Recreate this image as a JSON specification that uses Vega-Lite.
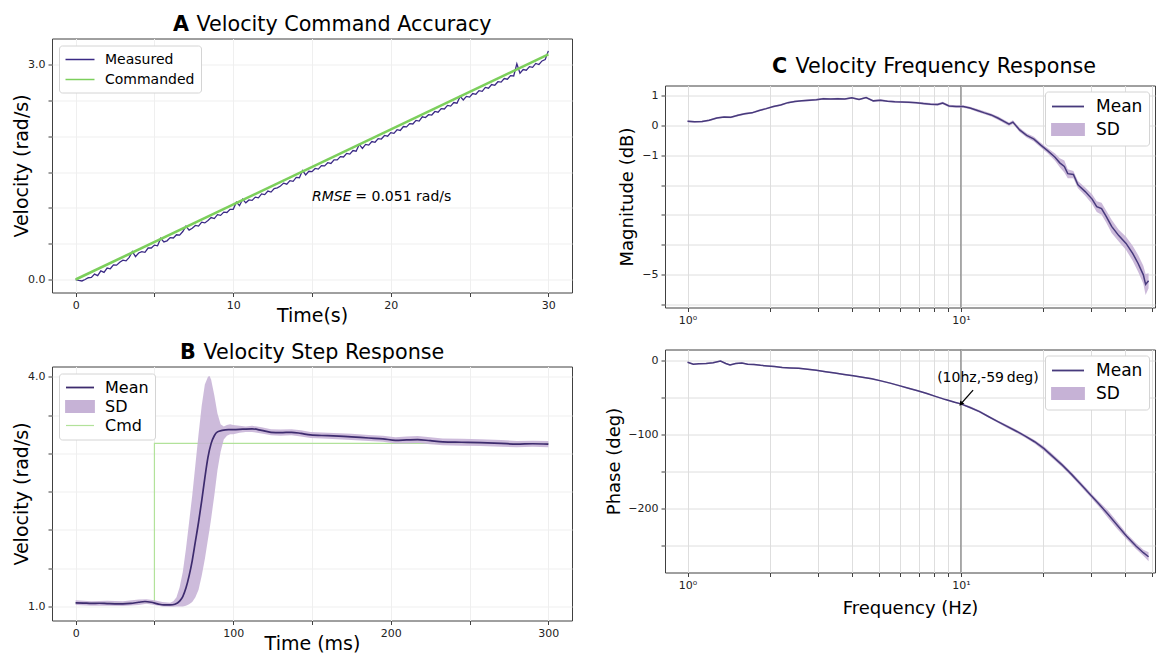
{
  "$schema": "https://vega.github.io/schema/vega-lite/v6.json",
  "background": "white",
  "padding": {"left": 12, "top": 13.5, "right": 0, "bottom": 0},
  "config": {
    "font": "DejaVu Sans",
    "view": {"stroke": "#404040", "strokeWidth": 1},
    "axis": {
      "domain": false, "grid": true, "gridColor": "#efefef", "gridWidth": 1, "tickCount": 30,
      "tickColor": "#404040", "tickSize": 4, "labelFont": "DejaVu Sans", "labelFontSize": 11,
      "labelColor": "#222222", "labelPadding": 3, "labelOverlap": false, "labelFlush": false,
      "titleFont": "DejaVu Sans", "titleFontSize": 19, "titleFontWeight": "normal", "titleColor": "#000000"
    },
    "legend": {
      "labelFont": "DejaVu Sans", "labelColor": "#000000", "fillColor": "#ffffff",
      "strokeColor": "#d4d4d4", "cornerRadius": 3, "padding": 6, "symbolStrokeWidth": 1.5
    },
    "title": {
      "font": "DejaVu Sans", "fontSize": 20.7, "fontWeight": "bold", "color": "#000000",
      "subtitleFont": "DejaVu Sans", "subtitleFontSize": 20.7, "subtitleFontWeight": "normal",
      "subtitleColor": "#000000", "subtitlePadding": -20.7, "anchor": "start", "frame": "group", "offset": 2.5
    }
  },
  "datasets": {
    "accMeasured": [
      {"t":0,"v":0.000},{"t":0.2,"v":-0.012},{"t":0.4,"v":-0.020},{"t":0.6,"v":0.000},{"t":0.8,"v":0.025},
      {"t":1.0,"v":0.030},{"t":1.2,"v":0.075},{"t":1.4,"v":0.055},{"t":1.6,"v":0.120},{"t":1.8,"v":0.100},
      {"t":2.0,"v":0.160},{"t":2.2,"v":0.150},{"t":2.4,"v":0.205},{"t":2.6,"v":0.200},{"t":2.8,"v":0.240},
      {"t":3.0,"v":0.270},{"t":3.2,"v":0.260},{"t":3.4,"v":0.310},{"t":3.6,"v":0.390},{"t":3.8,"v":0.320},
      {"t":4.0,"v":0.370},{"t":4.2,"v":0.390},{"t":4.4,"v":0.380},{"t":4.6,"v":0.440},{"t":4.8,"v":0.440},
      {"t":5.0,"v":0.480},{"t":5.2,"v":0.470},{"t":5.4,"v":0.575},{"t":5.6,"v":0.525},{"t":5.8,"v":0.540},
      {"t":6.0,"v":0.585},{"t":6.2,"v":0.580},{"t":6.4,"v":0.625},{"t":6.6,"v":0.620},{"t":6.8,"v":0.670},
      {"t":7.0,"v":0.745},{"t":7.2,"v":0.690},{"t":7.4,"v":0.715},{"t":7.6,"v":0.755},{"t":7.8,"v":0.745},
      {"t":8.0,"v":0.800},{"t":8.2,"v":0.790},{"t":8.4,"v":0.825},{"t":8.6,"v":0.865},{"t":8.8,"v":0.850},
      {"t":9.0,"v":0.905},{"t":9.2,"v":0.895},{"t":9.4,"v":0.940},{"t":9.6,"v":0.935},{"t":9.8,"v":0.980},
      {"t":10.0,"v":0.980},{"t":10.2,"v":1.080},{"t":10.4,"v":1.030},{"t":10.6,"v":1.120},{"t":10.8,"v":1.070},
      {"t":11.0,"v":1.110},{"t":11.2,"v":1.105},{"t":11.4,"v":1.150},{"t":11.6,"v":1.140},{"t":11.8,"v":1.195},
      {"t":12.0,"v":1.185},{"t":12.2,"v":1.235},{"t":12.4,"v":1.220},{"t":12.6,"v":1.270},{"t":12.8,"v":1.280},
      {"t":13.0,"v":1.305},{"t":13.2,"v":1.345},{"t":13.4,"v":1.330},{"t":13.6,"v":1.380},{"t":13.8,"v":1.370},
      {"t":14.0,"v":1.425},{"t":14.2,"v":1.420},{"t":14.4,"v":1.520},{"t":14.6,"v":1.460},{"t":14.8,"v":1.510},
      {"t":15.0,"v":1.505},{"t":15.2,"v":1.550},{"t":15.4,"v":1.540},{"t":15.6,"v":1.590},{"t":15.8,"v":1.585},
      {"t":16.0,"v":1.630},{"t":16.2,"v":1.620},{"t":16.4,"v":1.670},{"t":16.6,"v":1.670},{"t":16.8,"v":1.715},
      {"t":17.0,"v":1.710},{"t":17.2,"v":1.760},{"t":17.4,"v":1.750},{"t":17.6,"v":1.800},{"t":17.8,"v":1.790},
      {"t":18.0,"v":1.885},{"t":18.2,"v":1.830},{"t":18.4,"v":1.885},{"t":18.6,"v":1.875},{"t":18.8,"v":1.925},
      {"t":19.0,"v":1.915},{"t":19.2,"v":1.965},{"t":19.4,"v":1.960},{"t":19.6,"v":2.010},{"t":19.8,"v":2.000},
      {"t":20.0,"v":2.050},{"t":20.2,"v":2.040},{"t":20.4,"v":2.090},{"t":20.6,"v":2.080},{"t":20.8,"v":2.135},
      {"t":21.0,"v":2.130},{"t":21.2,"v":2.175},{"t":21.4,"v":2.170},{"t":21.6,"v":2.220},{"t":21.8,"v":2.210},
      {"t":22.0,"v":2.270},{"t":22.2,"v":2.260},{"t":22.4,"v":2.300},{"t":22.6,"v":2.295},{"t":22.8,"v":2.345},
      {"t":23.0,"v":2.335},{"t":23.2,"v":2.385},{"t":23.4,"v":2.380},{"t":23.6,"v":2.430},{"t":23.8,"v":2.420},
      {"t":24.0,"v":2.470},{"t":24.2,"v":2.460},{"t":24.4,"v":2.555},{"t":24.6,"v":2.505},{"t":24.8,"v":2.555},
      {"t":25.0,"v":2.545},{"t":25.2,"v":2.595},{"t":25.4,"v":2.585},{"t":25.6,"v":2.635},{"t":25.8,"v":2.625},
      {"t":26.0,"v":2.680},{"t":26.2,"v":2.670},{"t":26.4,"v":2.720},{"t":26.6,"v":2.710},{"t":26.8,"v":2.760},
      {"t":27.0,"v":2.755},{"t":27.2,"v":2.805},{"t":27.4,"v":2.795},{"t":27.6,"v":2.845},{"t":27.8,"v":2.840},
      {"t":28.0,"v":3.010},{"t":28.2,"v":2.880},{"t":28.4,"v":2.930},{"t":28.6,"v":2.920},{"t":28.8,"v":2.970},
      {"t":29.0,"v":2.960},{"t":29.2,"v":3.015},{"t":29.4,"v":3.000},{"t":29.6,"v":3.050},{"t":29.8,"v":3.070},
      {"t":30.0,"v":3.190}
    ],
    "accCommanded": [{"t":0,"v":0},{"t":30,"v":3.1416}],
    "stepMean": [
      {"t":0,"v":1.048},{"t":5,"v":1.045},{"t":10,"v":1.04},{"t":15,"v":1.042},{"t":20,"v":1.038},
      {"t":25,"v":1.035},{"t":30,"v":1.035},{"t":35,"v":1.04},{"t":40,"v":1.055},{"t":44,"v":1.065},
      {"t":48,"v":1.055},{"t":52,"v":1.035},{"t":56,"v":1.02},{"t":60,"v":1.02},{"t":63,"v":1.03},
      {"t":66,"v":1.07},{"t":68,"v":1.13},{"t":70,"v":1.24},{"t":72,"v":1.40},{"t":74,"v":1.60},
      {"t":76,"v":1.85},{"t":78,"v":2.10},{"t":80,"v":2.38},{"t":82,"v":2.68},{"t":84,"v":2.95},
      {"t":86,"v":3.13},{"t":88,"v":3.23},{"t":90,"v":3.28},{"t":93,"v":3.30},{"t":97,"v":3.31},
      {"t":100,"v":3.31},{"t":106,"v":3.315},{"t":112,"v":3.32},{"t":118,"v":3.30},{"t":124,"v":3.275},
      {"t":130,"v":3.27},{"t":137,"v":3.275},{"t":143,"v":3.26},{"t":149,"v":3.24},{"t":160,"v":3.23},
      {"t":175,"v":3.215},{"t":186,"v":3.20},{"t":195,"v":3.19},{"t":203,"v":3.17},{"t":210,"v":3.175},
      {"t":217,"v":3.18},{"t":225,"v":3.165},{"t":233,"v":3.15},{"t":245,"v":3.145},{"t":257,"v":3.14},
      {"t":270,"v":3.13},{"t":280,"v":3.12},{"t":290,"v":3.125},{"t":300,"v":3.12}
    ],
    "stepBand": [
      {"t":0,"lo":1.02,"hi":1.08},{"t":10,"lo":1.01,"hi":1.07},{"t":20,"lo":1.01,"hi":1.075},
      {"t":30,"lo":1.005,"hi":1.07},{"t":40,"lo":1.02,"hi":1.09},{"t":45,"lo":1.035,"hi":1.095},
      {"t":50,"lo":1.02,"hi":1.08},{"t":55,"lo":1.0,"hi":1.06},{"t":60,"lo":0.995,"hi":1.05},
      {"t":62,"lo":0.995,"hi":1.07},{"t":64,"lo":1.0,"hi":1.12},{"t":66,"lo":1.0,"hi":1.25},
      {"t":68,"lo":1.0,"hi":1.45},{"t":70,"lo":1.01,"hi":1.75},{"t":72,"lo":1.03,"hi":2.10},
      {"t":74,"lo":1.06,"hi":2.45},{"t":76,"lo":1.12,"hi":2.85},{"t":78,"lo":1.22,"hi":3.25},
      {"t":80,"lo":1.40,"hi":3.62},{"t":82,"lo":1.62,"hi":3.90},{"t":84,"lo":1.88,"hi":4.0},
      {"t":85,"lo":2.01,"hi":4.01},{"t":86,"lo":2.15,"hi":3.96},{"t":88,"lo":2.45,"hi":3.76},
      {"t":90,"lo":2.78,"hi":3.52},{"t":92,"lo":3.02,"hi":3.38},{"t":94,"lo":3.18,"hi":3.35},
      {"t":96,"lo":3.23,"hi":3.37},{"t":98,"lo":3.25,"hi":3.38},{"t":100,"lo":3.25,"hi":3.37},
      {"t":104,"lo":3.27,"hi":3.36},{"t":108,"lo":3.28,"hi":3.35},{"t":112,"lo":3.28,"hi":3.36},
      {"t":118,"lo":3.26,"hi":3.34},{"t":124,"lo":3.235,"hi":3.315},{"t":130,"lo":3.23,"hi":3.31},
      {"t":137,"lo":3.235,"hi":3.315},{"t":143,"lo":3.22,"hi":3.30},{"t":149,"lo":3.20,"hi":3.28},
      {"t":160,"lo":3.19,"hi":3.27},{"t":175,"lo":3.175,"hi":3.255},{"t":186,"lo":3.16,"hi":3.24},
      {"t":195,"lo":3.15,"hi":3.23},{"t":203,"lo":3.13,"hi":3.21},{"t":210,"lo":3.13,"hi":3.22},
      {"t":217,"lo":3.135,"hi":3.225},{"t":225,"lo":3.12,"hi":3.21},{"t":233,"lo":3.105,"hi":3.195},
      {"t":245,"lo":3.10,"hi":3.19},{"t":257,"lo":3.095,"hi":3.185},{"t":270,"lo":3.085,"hi":3.175},
      {"t":280,"lo":3.08,"hi":3.16},{"t":290,"lo":3.085,"hi":3.165},{"t":300,"lo":3.08,"hi":3.16}
    ],
    "stepCmd": [{"t":0,"v":1.05},{"t":50,"v":3.13},{"t":300,"v":3.13}],
    "mag": [
      {"f":1.00,"v":0.13,"lo":0.10,"hi":0.16},{"f":1.06,"v":0.11,"lo":0.08,"hi":0.14},
      {"f":1.13,"v":0.12,"lo":0.09,"hi":0.15},{"f":1.20,"v":0.16,"lo":0.13,"hi":0.19},
      {"f":1.28,"v":0.24,"lo":0.21,"hi":0.27},{"f":1.36,"v":0.27,"lo":0.24,"hi":0.30},
      {"f":1.44,"v":0.26,"lo":0.23,"hi":0.29},{"f":1.53,"v":0.33,"lo":0.30,"hi":0.36},
      {"f":1.62,"v":0.38,"lo":0.35,"hi":0.41},{"f":1.72,"v":0.41,"lo":0.38,"hi":0.44},
      {"f":1.83,"v":0.49,"lo":0.46,"hi":0.52},{"f":1.94,"v":0.55,"lo":0.52,"hi":0.58},
      {"f":2.06,"v":0.62,"lo":0.59,"hi":0.65},{"f":2.19,"v":0.67,"lo":0.64,"hi":0.70},
      {"f":2.33,"v":0.75,"lo":0.72,"hi":0.78},{"f":2.47,"v":0.79,"lo":0.76,"hi":0.82},
      {"f":2.62,"v":0.81,"lo":0.78,"hi":0.84},{"f":2.79,"v":0.83,"lo":0.80,"hi":0.86},
      {"f":2.96,"v":0.85,"lo":0.82,"hi":0.88},{"f":3.14,"v":0.88,"lo":0.85,"hi":0.91},
      {"f":3.34,"v":0.87,"lo":0.84,"hi":0.90},{"f":3.54,"v":0.88,"lo":0.85,"hi":0.91},
      {"f":3.76,"v":0.87,"lo":0.84,"hi":0.90},{"f":3.99,"v":0.91,"lo":0.88,"hi":0.94},
      {"f":4.24,"v":0.86,"lo":0.83,"hi":0.89},{"f":4.50,"v":0.92,"lo":0.89,"hi":0.95},
      {"f":4.78,"v":0.81,"lo":0.78,"hi":0.84},{"f":5.08,"v":0.83,"lo":0.80,"hi":0.86},
      {"f":5.39,"v":0.80,"lo":0.77,"hi":0.83},{"f":5.73,"v":0.78,"lo":0.75,"hi":0.81},
      {"f":6.08,"v":0.77,"lo":0.74,"hi":0.80},{"f":6.46,"v":0.76,"lo":0.73,"hi":0.79},
      {"f":6.86,"v":0.75,"lo":0.72,"hi":0.78},{"f":7.29,"v":0.72,"lo":0.68,"hi":0.76},
      {"f":7.74,"v":0.70,"lo":0.66,"hi":0.74},{"f":8.22,"v":0.69,"lo":0.65,"hi":0.73},
      {"f":8.58,"v":0.74,"lo":0.70,"hi":0.78},{"f":9.05,"v":0.64,"lo":0.60,"hi":0.68},
      {"f":9.60,"v":0.62,"lo":0.58,"hi":0.66},{"f":10.2,"v":0.62,"lo":0.58,"hi":0.66},
      {"f":10.8,"v":0.57,"lo":0.53,"hi":0.61},{"f":11.5,"v":0.49,"lo":0.44,"hi":0.54},
      {"f":12.2,"v":0.41,"lo":0.36,"hi":0.46},{"f":12.9,"v":0.34,"lo":0.29,"hi":0.39},
      {"f":13.7,"v":0.23,"lo":0.17,"hi":0.29},{"f":14.6,"v":0.09,"lo":0.03,"hi":0.15},
      {"f":15.0,"v":0.03,"lo":-0.03,"hi":0.09},{"f":15.5,"v":0.10,"lo":0.04,"hi":0.16},
      {"f":16.4,"v":-0.16,"lo":-0.23,"hi":-0.09},{"f":17.4,"v":-0.34,"lo":-0.41,"hi":-0.27},
      {"f":18.5,"v":-0.47,"lo":-0.55,"hi":-0.39},{"f":19.6,"v":-0.67,"lo":-0.75,"hi":-0.59},
      {"f":20.8,"v":-0.86,"lo":-0.95,"hi":-0.77},{"f":22.1,"v":-1.07,"lo":-1.19,"hi":-0.95},
      {"f":23.0,"v":-1.26,"lo":-1.41,"hi":-1.11},{"f":23.9,"v":-1.38,"lo":-1.58,"hi":-1.18},
      {"f":24.6,"v":-1.62,"lo":-1.77,"hi":-1.47},{"f":25.8,"v":-1.65,"lo":-1.77,"hi":-1.53},
      {"f":26.8,"v":-1.99,"lo":-2.11,"hi":-1.87},{"f":28.5,"v":-2.22,"lo":-2.36,"hi":-2.08},
      {"f":30.2,"v":-2.47,"lo":-2.63,"hi":-2.31},{"f":31.4,"v":-2.72,"lo":-2.90,"hi":-2.54},
      {"f":32.7,"v":-2.79,"lo":-2.99,"hi":-2.59},{"f":34.0,"v":-3.05,"lo":-3.25,"hi":-2.85},
      {"f":35.6,"v":-3.38,"lo":-3.60,"hi":-3.16},{"f":37.8,"v":-3.69,"lo":-3.89,"hi":-3.49},
      {"f":40.2,"v":-3.95,"lo":-4.17,"hi":-3.73},{"f":42.5,"v":-4.28,"lo":-4.53,"hi":-4.03},
      {"f":44.5,"v":-4.62,"lo":-4.90,"hi":-4.34},{"f":46.5,"v":-5.00,"lo":-5.30,"hi":-4.70},
      {"f":47.4,"v":-5.32,"lo":-5.67,"hi":-4.97},{"f":48.6,"v":-5.20,"lo":-5.45,"hi":-4.95}
    ],
    "phase": [
      {"f":1.00,"v":-3,"lo":-4,"hi":-2},{"f":1.05,"v":-5.5,"lo":-6.5,"hi":-4.5},
      {"f":1.10,"v":-5,"lo":-6,"hi":-4},{"f":1.17,"v":-4.5,"lo":-5.5,"hi":-3.5},
      {"f":1.24,"v":-3.5,"lo":-4.5,"hi":-2.5},{"f":1.32,"v":-1.3,"lo":-2.3,"hi":-0.3},
      {"f":1.38,"v":-4.5,"lo":-5.5,"hi":-3.5},{"f":1.43,"v":-6.5,"lo":-7.5,"hi":-5.5},
      {"f":1.50,"v":-4.5,"lo":-5.5,"hi":-3.5},{"f":1.58,"v":-4,"lo":-5,"hi":-3},
      {"f":1.66,"v":-5.5,"lo":-6.5,"hi":-4.5},{"f":1.75,"v":-6,"lo":-7,"hi":-5},
      {"f":1.85,"v":-7,"lo":-8,"hi":-6},{"f":1.96,"v":-7.8,"lo":-8.8,"hi":-6.8},
      {"f":2.08,"v":-8.6,"lo":-9.6,"hi":-7.6},{"f":2.22,"v":-9.8,"lo":-10.8,"hi":-8.8},
      {"f":2.38,"v":-10.5,"lo":-11.5,"hi":-9.5},{"f":2.55,"v":-11,"lo":-12,"hi":-10},
      {"f":2.75,"v":-12.4,"lo":-13.4,"hi":-11.4},{"f":2.96,"v":-13.8,"lo":-14.8,"hi":-12.8},
      {"f":3.20,"v":-15.6,"lo":-16.6,"hi":-14.6},{"f":3.46,"v":-17.4,"lo":-18.4,"hi":-16.4},
      {"f":3.74,"v":-19.3,"lo":-20.3,"hi":-18.3},{"f":4.04,"v":-21,"lo":-22,"hi":-20},
      {"f":4.36,"v":-23,"lo":-24,"hi":-22},{"f":4.72,"v":-25.2,"lo":-26.2,"hi":-24.2},
      {"f":5.10,"v":-28,"lo":-29,"hi":-27},{"f":5.51,"v":-31,"lo":-32,"hi":-30},
      {"f":5.95,"v":-34.4,"lo":-35.4,"hi":-33.4},{"f":6.43,"v":-37.8,"lo":-38.8,"hi":-36.8},
      {"f":6.95,"v":-41.4,"lo":-42.4,"hi":-40.4},{"f":7.51,"v":-45,"lo":-46,"hi":-44},
      {"f":8.12,"v":-49.2,"lo":-50.2,"hi":-48.2},{"f":8.78,"v":-53.2,"lo":-54.2,"hi":-52.2},
      {"f":9.49,"v":-56.8,"lo":-57.8,"hi":-55.8},{"f":10.0,"v":-59,"lo":-60,"hi":-58},
      {"f":10.8,"v":-63.8,"lo":-65.3,"hi":-62.3},{"f":11.7,"v":-69.5,"lo":-71,"hi":-68},
      {"f":12.6,"v":-76,"lo":-77.5,"hi":-74.5},{"f":13.6,"v":-82.5,"lo":-84,"hi":-81},
      {"f":14.7,"v":-89,"lo":-91,"hi":-87},{"f":15.9,"v":-95.5,"lo":-97.5,"hi":-93.5},
      {"f":17.2,"v":-102.5,"lo":-104.5,"hi":-100.5},{"f":18.6,"v":-110,"lo":-112.5,"hi":-107.5},
      {"f":20.1,"v":-119,"lo":-122,"hi":-116},{"f":21.7,"v":-130,"lo":-133,"hi":-127},
      {"f":23.5,"v":-141.5,"lo":-144.5,"hi":-138.5},{"f":25.4,"v":-154,"lo":-157,"hi":-151},
      {"f":27.4,"v":-167,"lo":-170,"hi":-164},{"f":29.6,"v":-180.5,"lo":-183.5,"hi":-177.5},
      {"f":32.0,"v":-194,"lo":-197.5,"hi":-190.5},{"f":34.6,"v":-208,"lo":-213,"hi":-203},
      {"f":37.4,"v":-223,"lo":-228,"hi":-218},{"f":40.4,"v":-237.5,"lo":-241.5,"hi":-233.5},
      {"f":43.7,"v":-250.5,"lo":-254.5,"hi":-246.5},{"f":46.5,"v":-259.5,"lo":-263.5,"hi":-255.5},
      {"f":48.6,"v":-265,"lo":-271,"hi":-259}
    ],
    "callout": [{"f":10,"v":-59,"label":"(10hz,-59\u2009deg)"}]
  },
  "spacing": 32,
  "resolve": {"scale": {"color": "independent"}, "legend": {"color": "independent"}},
  "hconcat": [
    {
      "spacing": 15,
      "resolve": {"scale": {"color": "independent"}, "legend": {"color": "independent"}},
      "vconcat": [
        {
          "width": 520, "height": 254,
          "title": {"text": "A", "subtitle": "\u200b\u2002\u00a0\u00a0Velocity Command Accuracy", "dx": 121},
          "layer": [
            {
              "data": {"name": "accMeasured"},
              "mark": {"type": "line", "strokeWidth": 1.3},
              "encoding": {
                "x": {"field": "t", "type": "quantitative",
                  "scale": {"domain": [-1.5, 31.5], "nice": false, "zero": false},
                  "axis": {"title": "Time(s)", "titlePadding": -4, "values": [0,5,10,15,20,25,30],
                    "labelExpr": "datum.value % 10 === 0 ? datum.label : ''"}},
                "y": {"field": "v", "type": "quantitative",
                  "scale": {"domain": [-0.181, 3.363], "nice": false, "zero": false},
                  "axis": {"title": "Velocity (rad/s)", "titlePadding": -4, "values": [0,0.5,1,1.5,2,2.5,3], "format": ".1f",
                    "labelExpr": "datum.value === 0 || datum.value === 3 ? datum.label : ''"}},
                "color": {"datum": "Measured", "type": "nominal",
                  "scale": {"domain": ["Measured", "Commanded"], "range": ["#3a2a85", "#7ccf5c"]},
                  "legend": {"title": null, "orient": "top-left", "offset": 7, "labelFontSize": 14,
                    "symbolType": "M-2,0H2", "symbolSize": 210, "symbolOffset": 7, "labelOffset": 17,
                    "rowPadding": 5, "symbolStrokeWidth": 1.5}}
              }
            },
            {
              "data": {"name": "accCommanded"},
              "mark": {"type": "line", "strokeWidth": 2.6},
              "encoding": {
                "x": {"field": "t", "type": "quantitative"},
                "y": {"field": "v", "type": "quantitative"},
                "color": {"datum": "Commanded", "type": "nominal"}
              }
            },
            {
              "data": {"values": [{"label": "RMSE"}]},
              "mark": {"type": "text", "align": "left", "baseline": "middle", "fontSize": 14, "fontStyle": "italic", "color": "#000000"},
              "encoding": {"x": {"datum": 15.0}, "y": {"datum": 1.15}, "text": {"field": "label"}}
            },
            {
              "data": {"values": [{"label": "= 0.051 rad/s"}]},
              "mark": {"type": "text", "align": "left", "baseline": "middle", "fontSize": 14, "color": "#000000"},
              "encoding": {"x": {"datum": 17.75}, "y": {"datum": 1.15}, "text": {"field": "label"}}
            }
          ]
        },
        {
          "width": 520, "height": 254,
          "title": {"text": "B", "subtitle": "\u200b\u2002\u00a0\u00a0Velocity Step Response", "dx": 128},
          "layer": [
            {
              "data": {"name": "stepCmd"},
              "mark": {"type": "line", "interpolate": "step-after", "strokeWidth": 1.2},
              "encoding": {
                "x": {"field": "t", "type": "quantitative",
                  "scale": {"domain": [-15, 315], "nice": false, "zero": false},
                  "axis": {"title": "Time (ms)", "titlePadding": -4, "values": [0,50,100,150,200,250,300],
                    "labelExpr": "datum.value % 100 === 0 ? datum.label : ''"}},
                "y": {"field": "v", "type": "quantitative",
                  "scale": {"domain": [0.817, 4.134], "nice": false, "zero": false},
                  "axis": {"title": "Velocity (rad/s)", "titlePadding": -4, "values": [1,1.5,2,2.5,3,3.5,4], "format": ".1f",
                    "labelExpr": "datum.value === 1 || datum.value === 4 ? datum.label : ''"}},
                "color": {"datum": "Cmd", "type": "nominal",
                  "scale": {"domain": ["Mean", "SD", "Cmd"], "range": ["#3d2b6e", "#c6b2d6", "#b2e29a"]},
                  "legend": {"title": null, "orient": "top-left", "offset": 7, "labelFontSize": 16,
                    "symbolSize": 196, "symbolOffset": 7, "labelOffset": 17, "rowPadding": 1,
                    "encode": {"symbols": {"update": {
                      "shape": {"signal": "datum.value === 'SD' ? 'M-2,-0.8H2V0.8H-2Z' : 'M-2,0H2'"},
                      "fill": {"signal": "datum.value === 'SD' ? '#c6b2d6' : 'transparent'"},
                      "stroke": {"signal": "datum.value === 'Mean' ? '#3d2b6e' : datum.value === 'Cmd' ? '#b2e29a' : 'transparent'"},
                      "strokeWidth": {"signal": "datum.value === 'Cmd' ? 1.2 : 1.8"}
                    }}}}}
              }
            },
            {
              "data": {"name": "stepBand"},
              "mark": {"type": "area", "color": "#c6b2d6", "opacity": 0.88},
              "encoding": {
                "x": {"field": "t", "type": "quantitative"},
                "y": {"field": "lo", "type": "quantitative"},
                "y2": {"field": "hi"}
              }
            },
            {
              "data": {"name": "stepMean"},
              "mark": {"type": "line", "strokeWidth": 1.7, "interpolate": "monotone"},
              "encoding": {
                "x": {"field": "t", "type": "quantitative"},
                "y": {"field": "v", "type": "quantitative"},
                "color": {"datum": "Mean", "type": "nominal"}
              }
            }
          ]
        }
      ]
    },
    {
      "spacing": 15,
      "resolve": {"scale": {"color": "independent"}, "legend": {"color": "independent"}},
      "vconcat": [
        {
          "width": 10, "height": 1,
          "view": {"stroke": null},
          "data": {"values": []},
          "mark": {"type": "point", "opacity": 0}
        },
        {
          "spacing": 21,
          "resolve": {"scale": {"color": "independent"}, "legend": {"color": "independent"}},
          "vconcat": [
            {
              "width": 490, "height": 222,
              "title": {"text": "C", "subtitle": "\u200b\u2002\u00a0\u00a0Velocity Frequency Response", "dx": 107, "offset": 7.3},
              "layer": [
                {
                  "data": {"values": [{}]},
                  "mark": {"type": "rule", "color": "#808080", "strokeWidth": 1.2},
                  "encoding": {"x": {"datum": 10}}
                },
                {
                  "data": {"name": "mag"},
                  "mark": {"type": "area", "color": "#c6b2d6", "opacity": 0.9},
                  "encoding": {
                    "x": {"field": "f", "type": "quantitative",
                      "scale": {"type": "log", "domain": [0.827, 51.3], "nice": false},
                      "axis": {"title": null, "gridColor": "#dedede", "values": [1,2,3,4,5,6,7,8,9,10,20,30,40,50],
                        "labelExpr": "datum.value === 1 ? '10\u2070' : datum.value === 10 ? '10\u00b9' : ''"}},
                    "y": {"field": "lo", "type": "quantitative",
                      "scale": {"domain": [-6.09, 1.323], "nice": false, "zero": false},
                      "axis": {"title": "Magnitude (dB)", "titleFontSize": 18, "titlePadding": 5, "gridColor": "#dedede",
                        "values": [-6,-5,-4,-3,-2,-1,0,1], "format": "d",
                        "labelExpr": "indexof([1,0,-1,-5], datum.value) >= 0 ? replace(datum.label, '-', '\u2212') : ''"}},
                    "y2": {"field": "hi"}
                  }
                },
                {
                  "data": {"name": "mag"},
                  "mark": {"type": "line", "strokeWidth": 1.5},
                  "encoding": {
                    "x": {"field": "f", "type": "quantitative"},
                    "y": {"field": "v", "type": "quantitative"},
                    "color": {"datum": "Mean", "type": "nominal",
                      "scale": {"domain": ["Mean", "SD"], "range": ["#473a7c", "#c6b2d6"]},
                      "legend": {"title": null, "orient": "top-right", "offset": 6, "labelFontSize": 17,
                        "symbolSize": 256, "symbolOffset": 8, "labelOffset": 19, "rowPadding": 5,
                        "encode": {"symbols": {"update": {
                          "shape": {"signal": "datum.value === 'SD' ? 'M-2,-0.7H2V0.7H-2Z' : 'M-2,0H2'"},
                          "fill": {"signal": "datum.value === 'SD' ? '#c6b2d6' : 'transparent'"},
                          "stroke": {"signal": "datum.value === 'Mean' ? '#473a7c' : 'transparent'"},
                          "strokeWidth": {"value": 1.8}
                        }}}}}
                  }
                }
              ]
            },
            {
              "width": 490, "height": 223,
              "layer": [
                {
                  "data": {"values": [{}]},
                  "mark": {"type": "rule", "color": "#808080", "strokeWidth": 1.2},
                  "encoding": {"x": {"datum": 10}}
                },
                {
                  "data": {"name": "phase"},
                  "mark": {"type": "area", "color": "#c6b2d6", "opacity": 0.9},
                  "encoding": {
                    "x": {"field": "f", "type": "quantitative",
                      "scale": {"type": "log", "domain": [0.827, 51.3], "nice": false},
                      "axis": {"title": "Frequency (Hz)", "titleFontSize": 18, "titlePadding": 9, "gridColor": "#dedede",
                        "values": [1,2,3,4,5,6,7,8,9,10,20,30,40,50],
                        "labelExpr": "datum.value === 1 ? '10\u2070' : datum.value === 10 ? '10\u00b9' : ''"}},
                    "y": {"field": "lo", "type": "quantitative",
                      "scale": {"domain": [-286.2, 14.3], "nice": false, "zero": false},
                      "axis": {"title": "Phase (deg)", "titleFontSize": 18, "titlePadding": 4, "gridColor": "#dedede",
                        "values": [-250,-200,-150,-100,-50,0], "format": "d",
                        "labelExpr": "indexof([0,-100,-200], datum.value) >= 0 ? replace(datum.label, '-', '\u2212') : ''"}},
                    "y2": {"field": "hi"}
                  }
                },
                {
                  "data": {"name": "phase"},
                  "mark": {"type": "line", "strokeWidth": 1.5},
                  "encoding": {
                    "x": {"field": "f", "type": "quantitative"},
                    "y": {"field": "v", "type": "quantitative"},
                    "color": {"datum": "Mean", "type": "nominal",
                      "scale": {"domain": ["Mean", "SD"], "range": ["#473a7c", "#c6b2d6"]},
                      "legend": {"title": null, "orient": "top-right", "offset": 6, "labelFontSize": 17,
                        "symbolSize": 256, "symbolOffset": 8, "labelOffset": 19, "rowPadding": 5,
                        "encode": {"symbols": {"update": {
                          "shape": {"signal": "datum.value === 'SD' ? 'M-2,-0.7H2V0.7H-2Z' : 'M-2,0H2'"},
                          "fill": {"signal": "datum.value === 'SD' ? '#c6b2d6' : 'transparent'"},
                          "stroke": {"signal": "datum.value === 'Mean' ? '#473a7c' : 'transparent'"},
                          "strokeWidth": {"value": 1.8}
                        }}}}}
                  }
                },
                {
                  "data": {"name": "callout"},
                  "mark": {"type": "rule", "color": "#000000", "strokeWidth": 1.3},
                  "encoding": {
                    "x": {"field": "f", "type": "quantitative"},
                    "y": {"field": "v", "type": "quantitative"},
                    "x2": {"datum": 11.08},
                    "y2": {"datum": -40.4}
                  }
                },
                {
                  "data": {"name": "callout"},
                  "mark": {"type": "point", "shape": "triangle-up", "angle": 220, "size": 28, "filled": true, "color": "#000000", "opacity": 1},
                  "encoding": {
                    "x": {"field": "f", "type": "quantitative"},
                    "y": {"field": "v", "type": "quantitative"}
                  }
                },
                {
                  "data": {"name": "callout"},
                  "mark": {"type": "text", "fontSize": 14, "dx": 27, "dy": -26, "align": "center", "baseline": "middle", "color": "#000000"},
                  "encoding": {
                    "x": {"field": "f", "type": "quantitative"},
                    "y": {"field": "v", "type": "quantitative"},
                    "text": {"field": "label"}
                  }
                }
              ]
            }
          ]
        }
      ]
    }
  ]
}
